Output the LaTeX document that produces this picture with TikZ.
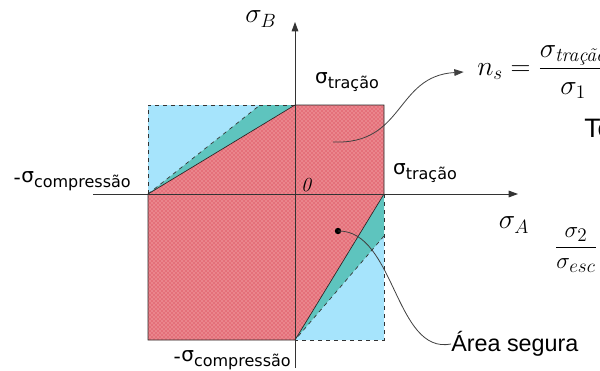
\documentclass[tikz,border=0pt]{standalone}
\usepackage{amsmath}
\usepackage{fontspec}
\usepackage{tikz}
\usetikzlibrary{arrows.meta,patterns}
\newfontfamily\verdfont{DejaVu Sans}
\newfontfamily\arialfont{Liberation Sans}
\definecolor{LightBlue}{RGB}{166,228,252}
\definecolor{TealFill}{RGB}{94,196,190}
\definecolor{RedFill}{RGB}{228,112,122}
\newcommand{\sigsub}[1]{{\verdfont\fontsize{15}{17}\selectfont σ\raisebox{-0.5ex}{\fontsize{12}{14}\selectfont #1}}}

\begin{document}
\begin{tikzpicture}[x=0.75pt,y=-0.75pt]
        \useasboundingbox (0,0) rectangle (600,371);
        \tikzset{AxisStyle/.style = {draw=black!80, line width=0.6pt, -{Triangle[length=7pt,width=5pt]}},
        ZoneStyle/.style = {draw=black!80, line width=0.5pt, dashed},
        LinkStyle/.style = {draw=black!75, line width=0.6pt},
        LabelStyle/.style = {inner sep=0pt}}
        \fill[LightBlue] (148,194) -- (148,105) -- (260,105) -- cycle;
        \fill[LightBlue] (384,236) -- (384,340) -- (295,340) -- cycle;
        \fill[TealFill] (148,194) -- (260,105) -- (295,105) -- cycle;
        \fill[TealFill] (384,194) -- (384,236) -- (295,340) -- cycle;
        \fill[RedFill] (148,194) -- (295,105) -- (384,105) -- (384,194) -- (295,340) -- (148,340) -- cycle;
        \fill[pattern=crosshatch dots, pattern color=white!80!red] (148,194) -- (295,105) -- (384,105) -- (384,194) -- (295,340) -- (148,340) -- cycle;
        \draw[ZoneStyle] (148,194) -- (148,105) -- (295,105);
        \draw[ZoneStyle] (148,194) -- (260,105);
        \draw[ZoneStyle] (384,194) -- (384,340) -- (295,340);
        \draw[ZoneStyle] (384,236) -- (295,340);
        \draw[black!85, line width=0.5pt] (148,194) -- (295,105) -- (384,105) -- (384,194) -- (295,340) -- (148,340) -- cycle;
        \coordinate (O) at (295,194);
        \coordinate (xstart) at (93,194);
        \coordinate (xend) at (518,194);
        \coordinate (ystart) at (295,368);
        \coordinate (yend) at (295,22);
        \draw[AxisStyle] (xstart) -- (xend);
        \draw[AxisStyle] (ystart) -- (yend);
        \node[LabelStyle] (sB) at (261,19) {\fontsize{21}{23}\selectfont $\sigma_B$};
        \node[LabelStyle] (sA) at (514,225) {\fontsize{21}{23}\selectfont $\sigma_A$};
        \node[LabelStyle] (zero) at (306,185) {\fontsize{15}{17}\selectfont\itshape 0};
        \node[LabelStyle] (tracaoB) at (347,82) {\sigsub{tração}};
        \node[LabelStyle] (tracaoA) at (425,173) {\sigsub{tração}};
        \node[LabelStyle] (comprA) at (76,181) {\sigsub{compressão}};
        \node[LabelStyle, anchor=east] at (comprA.west) {\verdfont\fontsize{15}{17}\selectfont -};
        \node[LabelStyle] (comprB) at (236,360) {\sigsub{compressão}};
        \node[LabelStyle, anchor=east] at (comprB.west) {\verdfont\fontsize{15}{17}\selectfont -};
        \node[LabelStyle, anchor=west] (ns) at (477,72) {\fontsize{21}{23}\selectfont $n_s = \dfrac{\sigma_{\textit{tração}}}{\sigma_1}$};
        \coordinate (nsin) at ([xshift=-10pt]ns.west);
        \node[LabelStyle, anchor=west] (te) at (584,128) {\arialfont\fontsize{20}{22}\selectfont Te};
        \node[LabelStyle] (ratio) at (576,250) {\fontsize{19}{21}\selectfont $\dfrac{\sigma_2}{\sigma_{esc}}$};
        \node[LabelStyle, anchor=west] (safe) at (451,344) {\arialfont\fontsize{17.5}{20}\selectfont Área segura};
        \coordinate (p1) at (333,142);
        \fill[black] (338,231) circle (3.2);
        \coordinate (p2) at (338,231);
        \draw[LinkStyle, -{Triangle[length=7pt,width=5pt]}] (p1) .. controls (405,145) and (395,76) .. (nsin);
        \draw[LinkStyle] (p2) .. controls (395,230) and (395,355) .. (safe.west);
\end{tikzpicture}
\end{document}
